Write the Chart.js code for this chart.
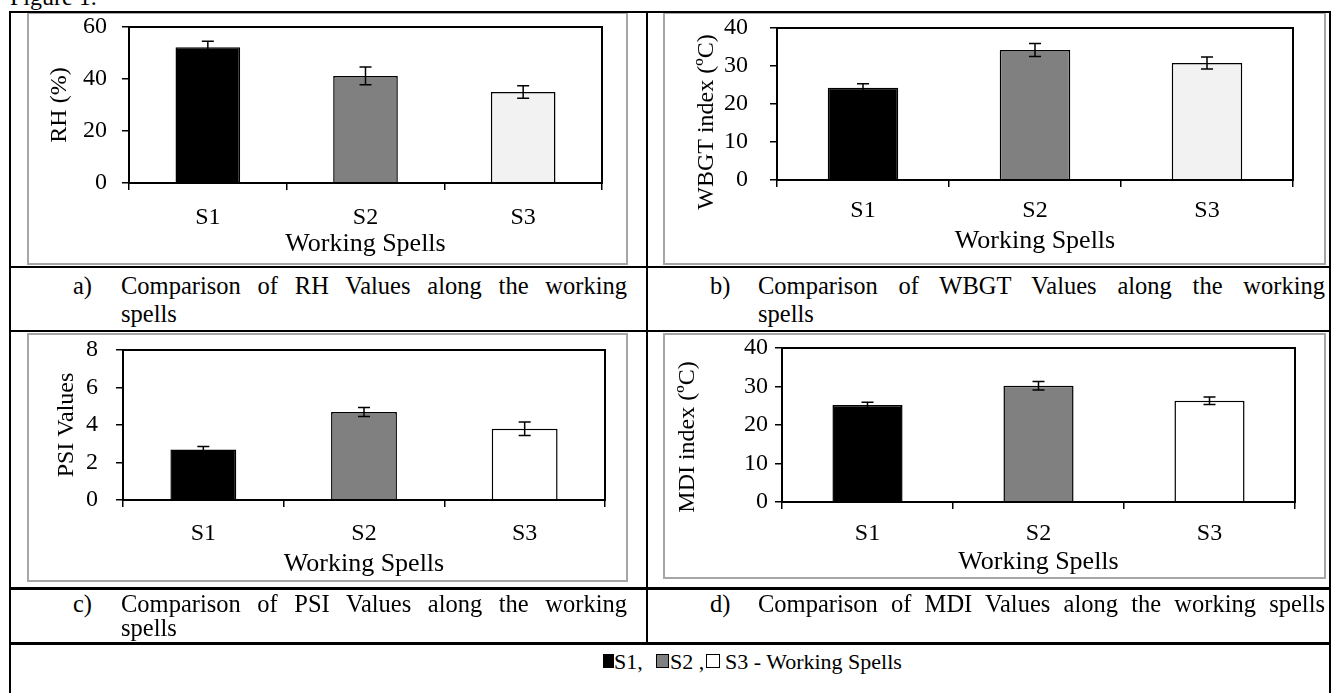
<!DOCTYPE html>
<html>
<head>
<meta charset="utf-8">
<script src="https://cdn.jsdelivr.net/npm/chart.js@4.4.0/dist/chart.umd.min.js"></script>
<style>
  body { margin: 0; background: #fff; width: 1333px; height: 693px; overflow: hidden; position: relative;
         font-family: 'Liberation Serif', 'Times New Roman', serif; color: #000; }
  .line { position: absolute; background: #000; }
  .frame { position: absolute; border: 2px solid #a6a6a6; box-sizing: border-box; }
  canvas { position: absolute; }
  .txt { position: absolute; font-size: 24.5px; line-height: 28px; white-space: nowrap; }
  .just { text-align: justify; text-align-last: justify; white-space: normal; }
  .sq { position: absolute; box-sizing: border-box; border: 1px solid #000; }
</style>
</head>
<body>

<div class="txt" style="left:10px;top:-17px;font-size:24px;">Figure 1.</div>

<!-- chart canvases -->
<canvas id="chartRH" width="601" height="253" style="left:27px;top:12px;width:601px;height:253px"></canvas>
<canvas id="chartWBGT" width="663" height="253" style="left:663px;top:12px;width:663px;height:253px"></canvas>
<canvas id="chartPSI" width="601" height="249" style="left:27px;top:333px;width:601px;height:249px"></canvas>
<canvas id="chartMDI" width="663" height="246" style="left:663px;top:333px;width:663px;height:246px"></canvas>

<!-- gray chart frames -->
<div class="frame" style="left:27px;top:12px;width:601px;height:253px"></div>
<div class="frame" style="left:663px;top:12px;width:663px;height:253px"></div>
<div class="frame" style="left:27px;top:333px;width:601px;height:249px"></div>
<div class="frame" style="left:663px;top:333px;width:663px;height:246px"></div>

<!-- table lines -->
<div class="line" style="left:9px;top:11px;width:1322px;height:2px"></div>
<div class="line" style="left:9px;top:11px;width:2px;height:682px"></div>
<div class="line" style="left:1329px;top:11px;width:2px;height:682px"></div>
<div class="line" style="left:646px;top:11px;width:2px;height:633px"></div>
<div class="line" style="left:9px;top:266px;width:1322px;height:2px"></div>
<div class="line" style="left:9px;top:330px;width:1322px;height:2px"></div>
<div class="line" style="left:9px;top:587px;width:1322px;height:3px"></div>
<div class="line" style="left:9px;top:642px;width:1322px;height:3px"></div>

<!-- captions -->
<div class="txt" style="left:73px;top:272px;">a)</div>
<div class="txt just" style="left:121px;top:272px;width:506px;">Comparison of RH Values along the working</div>
<div class="txt" style="left:121px;top:300px;">spells</div>

<div class="txt" style="left:710px;top:272px;">b)</div>
<div class="txt just" style="left:758px;top:272px;width:567px;">Comparison of WBGT Values along the working</div>
<div class="txt" style="left:758px;top:300px;">spells</div>

<div class="txt" style="left:73px;top:590px;">c)</div>
<div class="txt just" style="left:121px;top:590px;width:506px;">Comparison of PSI Values along the working</div>
<div class="txt" style="left:121px;top:614px;">spells</div>

<div class="txt" style="left:710px;top:590px;">d)</div>
<div class="txt just" style="left:758px;top:590px;width:567px;">Comparison of MDI Values along the working spells</div>

<!-- legend row -->
<div class="sq" style="left:603px;top:654px;width:11px;height:14px;background:#000"></div>
<div class="txt" style="left:614px;top:648px;font-size:22px;">S1,</div>
<div class="sq" style="left:656px;top:654px;width:13px;height:14px;background:#808080"></div>
<div class="txt" style="left:670px;top:648px;font-size:22px;">S2 ,</div>
<div class="sq" style="left:706px;top:654px;width:14px;height:14px;background:#fff"></div>
<div class="txt" style="left:725px;top:648px;font-size:22px;">S3 - Working Spells</div>

<script>
// data
const spells = ['S1', 'S2', 'S3'];

const rhValues = [52.2, 41.2, 35.0];
const rhErrors = [2.3, 3.4, 2.4];
const rhTicks = [0, 20, 40, 60];

const wbgtValues = [24.3, 34.2, 30.8];
const wbgtErrors = [1.0, 1.7, 1.6];
const wbgtTicks = [0, 10, 20, 30, 40];

const psiValues = [2.7, 4.7, 3.8];
const psiErrors = [0.15, 0.24, 0.36];
const psiTicks = [0, 2, 4, 6, 8];

const mdiValues = [25.2, 30.2, 26.3];
const mdiErrors = [0.7, 1.1, 1.0];
const mdiTicks = [0, 10, 20, 30, 40];

Chart.defaults.font.family = "'Liberation Serif', 'Times New Roman', serif";
Chart.defaults.color = '#000';

// error bars on top of each bar
const errorBars = {
    id: 'errorBars',
    afterDatasetsDraw(chart) {
        const ds = chart.data.datasets[0];
        const meta = chart.getDatasetMeta(0);
        const y = chart.scales.y;
        const ctx = chart.ctx;
        ctx.save();
        ctx.strokeStyle = '#000';
        ctx.lineWidth = 1.5;
        meta.data.forEach((bar, i) => {
            const top = y.getPixelForValue(ds.data[i] + ds.errors[i]);
            const bot = y.getPixelForValue(ds.data[i] - ds.errors[i]);
            ctx.beginPath();
            ctx.moveTo(bar.x, top); ctx.lineTo(bar.x, bot);
            ctx.moveTo(bar.x - 6, top); ctx.lineTo(bar.x + 6, top);
            ctx.moveTo(bar.x - 6, bot); ctx.lineTo(bar.x + 6, bot);
            ctx.stroke();
        });
        ctx.restore();
    }
};

// black box round the plot area
const plotBox = {
    id: 'plotBox',
    afterDatasetsDraw(chart) {
        const a = chart.chartArea;
        const ctx = chart.ctx;
        ctx.save();
        ctx.strokeStyle = '#000';
        ctx.lineWidth = 2;
        ctx.strokeRect(a.left, a.top, a.right - a.left, a.bottom - a.top);
        ctx.restore();
    }
};

function makeChart(id, values, errors, ticks, colors, yTitle, lay) {
    const yMax = ticks[ticks.length - 1];
    const step = ticks[1] - ticks[0];
    return new Chart(document.getElementById(id), {
        type: 'bar',
        data: {
            labels: spells,
            datasets: [{
                data: values,
                errors: errors,
                backgroundColor: colors,
                borderColor: '#000',
                borderWidth: 1.5,
                categoryPercentage: 1,
                barPercentage: 0.41
            }]
        },
        options: {
            responsive: false,
            animation: false,
            layout: { padding: { top: lay.top, right: lay.right, left: 0, bottom: 0 } },
            plugins: { legend: { display: false }, tooltip: { enabled: false } },
            scales: {
                x: {
                    grid: { display: true, drawOnChartArea: false, drawTicks: true, tickLength: 7, offset: true, color: '#000', lineWidth: 1.5 },
                    border: { display: true, color: '#000', width: 2 },
                    ticks: { font: { size: 24 }, padding: lay.xTickPad, maxRotation: 0 },
                    title: { display: true, text: 'Working Spells', font: { size: 26 }, padding: { top: 0, bottom: lay.xTitlePad } },
                    afterFit: (s) => { s.height = lay.xHeight; s.paddingLeft = 0; s.paddingRight = 0; }
                },
                y: {
                    min: 0,
                    max: yMax,
                    grid: { display: true, drawOnChartArea: false, drawTicks: true, tickLength: 7, color: '#000', lineWidth: 1.5 },
                    border: { display: true, color: '#000', width: 2 },
                    ticks: { stepSize: step, font: { size: 24 }, padding: lay.yTickPad },
                    title: { display: true, text: yTitle, font: { size: 24 }, padding: { top: lay.yTitlePad, bottom: 0 } },
                    afterFit: (s) => { s.width = lay.yWidth; s.paddingTop = 0; s.paddingBottom = 0; }
                }
            }
        },
        plugins: [errorBars, plotBox]
    });
}

makeChart('chartRH', rhValues, rhErrors, rhTicks, ['#000000', '#808080', '#f2f2f2'], 'RH (%)',
    { top: 15, right: 26, yWidth: 102, xHeight: 82, yTickPad: 15, xTickPad: 13, yTitlePad: 18.6, xTitlePad: 5.4 });

makeChart('chartWBGT', wbgtValues, wbgtErrors, wbgtTicks, ['#000000', '#808080', '#f2f2f2'], 'WBGT index (ºC)      ',
    { top: 16, right: 33, yWidth: 114, xHeight: 85, yTickPad: 22, xTickPad: 9, yTitlePad: 29.6, xTitlePad: 8.4 });

makeChart('chartPSI', psiValues, psiErrors, psiTicks, ['#000000', '#808080', '#ffffff'], 'PSI Values',
    { top: 17, right: 23, yWidth: 96, xHeight: 82, yTickPad: 18, xTickPad: 12, yTitlePad: 25.6, xTitlePad: 2.4 });

makeChart('chartMDI', mdiValues, mdiErrors, mdiTicks, ['#000000', '#808080', '#ffffff'], 'MDI index (ºC)    ',
    { top: 15, right: 31, yWidth: 119, xHeight: 77, yTickPad: 7, xTickPad: 10, yTitlePad: 10.6, xTitlePad: 1.4 });
</script>
</body>
</html>
